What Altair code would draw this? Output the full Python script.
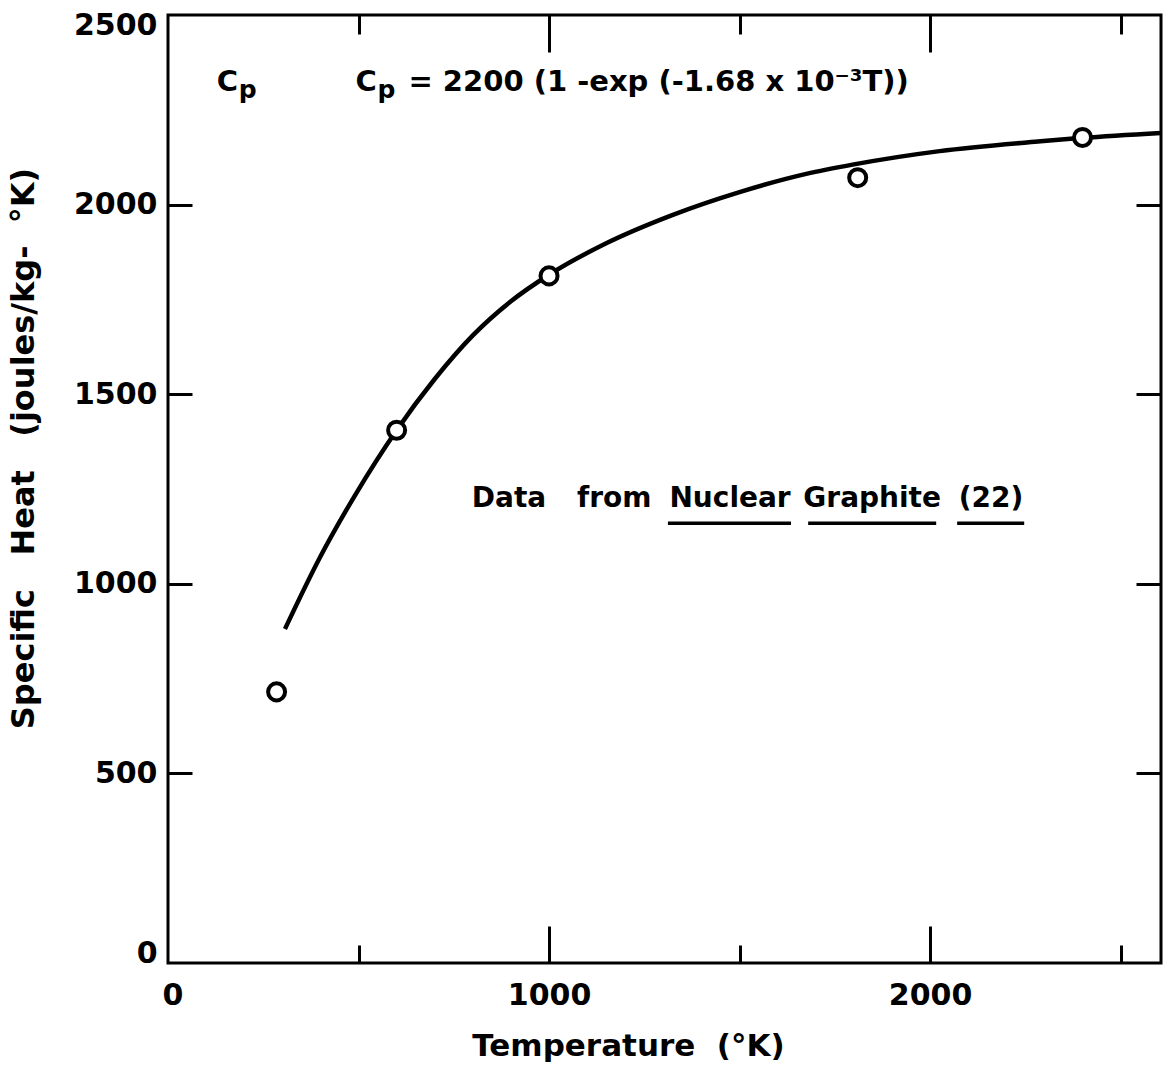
import altair as alt
import pandas as pd

# Measured specific heat of nuclear graphite
temp_k = [285, 600, 1000, 1810, 2400]
cp_meas = [715, 1405, 1812, 2071, 2177]

# Fitted curve Cp = 2200 (1 - exp(-1.68e-3 T)), as plotted
curve_t = [307, 400, 490, 600, 700, 800, 900, 1000, 1150, 1325, 1500, 1675,
           1800, 2025, 2290, 2400, 2606]
curve_cp = [881, 1072, 1232, 1405, 1540, 1655, 1745, 1815, 1898, 1973, 2033,
            2081, 2106, 2141, 2167, 2176, 2189]

# Axis tick values
x_label_ticks = [0, 1000, 2000]
x_major_ticks = [1000, 2000]
x_minor_ticks = [500, 1500, 2500]
y_label_ticks = [0, 500, 1000, 1500, 2000, 2500]
y_inner_ticks = [500, 1000, 1500, 2000]

# Source note, one entry per word (centre in T, baseline in Cp)
source_words = ["Data", "from", "Nuclear", "Graphite", "(22)"]
source_word_t = [895, 1171, 1475, 1848, 2160]
# underlined words of the source note (start / end in T)
underline_t = [1312, 1680, 2071]
underline_t2 = [1635, 2016, 2247]

W, H = 993, 948
X_MAX, Y_MAX = 2606, 2500
FONT = "DejaVu Sans"
NB = "\u00a0"

points = pd.DataFrame({"T": temp_k, "Cp": cp_meas})
curve = pd.DataFrame({"T": curve_t, "Cp": curve_cp})
source = pd.DataFrame({"T": source_word_t, "Cp": [1202] * len(source_words),
                       "label": source_words})
underlines = pd.DataFrame({"T": underline_t, "T2": underline_t2,
                           "Cp": [1160] * len(underline_t)})


def note(text, t, cp):
    return pd.DataFrame({"T": [t], "Cp": [cp], "label": [text]})


xs = alt.Scale(domain=[0, X_MAX], nice=False, zero=False)
ys = alt.Scale(domain=[0, Y_MAX], nice=False)


def tick_axis(orient, values, size):
    # ticks only, shifted inward so they point into the plot from the frame
    return alt.Axis(orient=orient, values=values, tickSize=size, offset=-size,
                    labels=False, domain=False, grid=False, title=None,
                    tickColor="black", tickWidth=3)


x_label_axis = alt.Axis(
    orient="bottom", values=x_label_ticks, format="d", ticks=False,
    domain=False, grid=False, labelFontSize=30, labelFontWeight="bold",
    labelPadding=17, labelFlush=True, labelFlushOffset=6,
    title="Temperature" + NB + " (°K)", titleFontSize=31, titleFontWeight="bold",
    titleX=460, titleY=92, titleAlign="center", titleBaseline="alphabetic",
)
y_label_axis = alt.Axis(
    orient="left", values=y_label_ticks, format="d", ticks=False,
    domain=False, grid=False, labelFontSize=30, labelFontWeight="bold",
    labelPadding=11, labelFlush=True, labelFlushOffset=5,
    title="Specific" + NB + NB + " Heat" + NB + NB + " (joules/kg-" + NB + " °K)",
    titleFontSize=32, titleFontWeight="bold", titleAngle=270,
    titleX=-135, titleY=433, titleAlign="center", titleBaseline="alphabetic",
)


def enc(x_axis=None, y_axis=None):
    return dict(x=alt.X("T:Q", scale=xs, axis=x_axis),
                y=alt.Y("Cp:Q", scale=ys, axis=y_axis))


text_style = dict(baseline="alphabetic", font=FONT, fontWeight="bold",
                  color="black")

curve_layer = alt.Chart(curve).mark_line(
    color="black", strokeWidth=4.5, interpolate="monotone"
).encode(**enc(x_label_axis, y_label_axis))

point_layer = alt.Chart(points).mark_point(
    shape="circle", filled=True, fill="white", stroke="black",
    strokeWidth=4, size=290, opacity=1,
).encode(**enc(tick_axis("bottom", x_major_ticks, 37),
               tick_axis("left", y_inner_ticks, 24)))

# "Cp" corner label
cp_c = alt.Chart(note("C", 128, 2300)).mark_text(
    align="left", fontSize=29, **text_style
).encode(text="label:N", **enc(tick_axis("bottom", x_minor_ticks, 18),
                               tick_axis("right", y_inner_ticks, 25)))
cp_p = alt.Chart(note("p", 128, 2300)).mark_text(
    align="left", fontSize=25, dx=22, dy=7, **text_style
).encode(text="label:N", **enc(tick_axis("top", x_major_ticks, 37)))

# fitted equation
eq_c = alt.Chart(note("C", 492, 2300)).mark_text(
    align="left", fontSize=29, **text_style
).encode(text="label:N", **enc(tick_axis("top", x_minor_ticks, 19)))
eq_p = alt.Chart(note("p", 492, 2300)).mark_text(
    align="left", fontSize=25, dx=22, dy=7, **text_style
).encode(text="label:N", **enc())
eq_rest = alt.Chart(note("= 2200 (1 -exp (-1.68 x 10\u207b\u00b3T))", 492, 2300)).mark_text(
    align="left", fontSize=29, dx=53, **text_style
).encode(text="label:N", **enc())

source_layer = alt.Chart(source).mark_text(
    align="center", fontSize=28, **text_style
).encode(text="label:N", **enc())

underline_layer = alt.Chart(underlines).mark_rule(
    color="black", strokeWidth=3.5
).encode(x=alt.X("T:Q", scale=xs, axis=None), x2="T2:Q",
         y=alt.Y("Cp:Q", scale=ys, axis=None))

chart = alt.layer(
    curve_layer, point_layer, cp_c, cp_p, eq_c, eq_p, eq_rest,
    source_layer, underline_layer,
).resolve_axis(
    x="independent", y="independent"
).properties(
    width=W, height=H,
    autosize=alt.AutoSizeParams(type="none"),
    padding={"left": 168, "top": 15, "right": 2, "bottom": 102},
    background="white",
).configure_view(
    stroke="black", strokeWidth=3
).configure_axis(
    labelFont=FONT, titleFont=FONT, labelColor="black", titleColor="black",
)

chart.save("out.html", embed_options={"renderer": "svg", "actions": False})
